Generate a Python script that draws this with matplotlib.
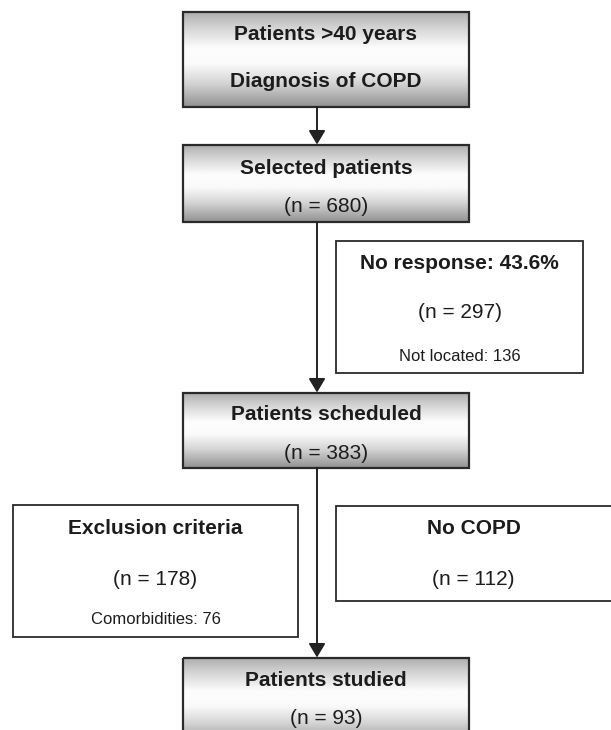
import numpy as np
import matplotlib
matplotlib.use("Agg")
import matplotlib.pyplot as plt
from matplotlib.patches import Rectangle

plt.rcParams['font.family'] = ['Liberation Sans', 'DejaVu Sans']

# ---- data ----
main_titles = ["Patients >40 years", "Selected patients", "Patients scheduled", "Patients studied"]
main_second = ["Diagnosis of COPD", "(n = 680)", "(n = 383)", "(n = 93)"]
side_titles = ["No response: 43.6%", "Exclusion criteria", "No COPD"]
side_counts = ["(n = 297)", "(n = 178)", "(n = 112)"]
side_notes = ["Not located: 136", "Comorbidities: 76", ""]

W, H = 611, 730
fig = plt.figure(figsize=(W / 100, H / 100), dpi=100)
ax = fig.add_axes([0, 0, 1, 1])
ax.set_xlim(0, W)
ax.set_ylim(H, 0)
ax.axis('off')

# layout (pixel coords)
main_x0, main_x1 = 183, 469
main_boxes = [(12, 107), (145, 222), (393, 468), (658, 745)]
main_text_y = [(33, 80), (167, 205), (413, 452), (679, 717)]
side_boxes = [(336, 583, 241, 373), (13, 298, 505, 637), (336, 616, 506, 601)]
side_text_y = [(262, 311, 355), (527, 578, 618), (527, 578, None)]
line_x = 317
txt_col = '#1c1c1c'
dy = 1.5

# gradient
stops_pos = np.array([0.0, 0.15, 0.38, 0.55, 0.75, 1.0])
stops_val = np.array([0.68, 0.82, 0.99, 0.98, 0.83, 0.57])
g = np.interp(np.linspace(0, 1, 200), stops_pos, stops_val)
grad = np.repeat(g[:, None], 2, axis=1)

edge = '#2a2a2a'
for (y0, y1), title, second, (ty1, ty2) in zip(main_boxes, main_titles, main_second, main_text_y):
    ax.imshow(grad, cmap='gray', vmin=0, vmax=1, aspect='auto',
              extent=(main_x0, main_x1, y1, y0), interpolation='bilinear', zorder=1)
    ax.add_patch(Rectangle((main_x0, y0), main_x1 - main_x0, y1 - y0, fill=False,
                           edgecolor=edge, linewidth=1.6, zorder=2))
    ax.text(326, ty1 + dy, title, ha='center', va='center', fontsize=15, fontweight='bold', color=txt_col, zorder=3)
    ax.text(326, ty2 + dy, second, ha='center', va='center', fontsize=15,
            fontweight='bold' if not second.startswith('(') else 'normal', color=txt_col, zorder=3)

for (x0, x1, y0, y1), t, c, n, (a, b, cc) in zip(side_boxes, side_titles, side_counts, side_notes, side_text_y):
    ax.add_patch(Rectangle((x0, y0), x1 - x0, y1 - y0, facecolor='white',
                           edgecolor=edge, linewidth=1.3, zorder=2))
    cx = (x0 + min(x1, W)) / 2
    ax.text(cx, a + dy, t, ha='center', va='center', fontsize=15, fontweight='bold', color=txt_col, zorder=3)
    ax.text(cx, b + dy, c, ha='center', va='center', fontsize=15, color=txt_col, zorder=3)
    if n:
        ax.text(cx, cc + dy, n, ha='center', va='center', fontsize=12, color=txt_col, zorder=3)

# connectors
for i in range(3):
    y_start = main_boxes[i][1]
    y_end = main_boxes[i + 1][0]
    ax.annotate('', xy=(line_x, y_end - 0.5), xytext=(line_x, y_start),
                arrowprops=dict(arrowstyle='-|>,head_length=0.6,head_width=0.36',
                                color='#222222', lw=1.4, shrinkA=0, shrinkB=0,
                                mutation_scale=14), zorder=2)

fig.savefig('out.png', dpi=100, facecolor='white')
